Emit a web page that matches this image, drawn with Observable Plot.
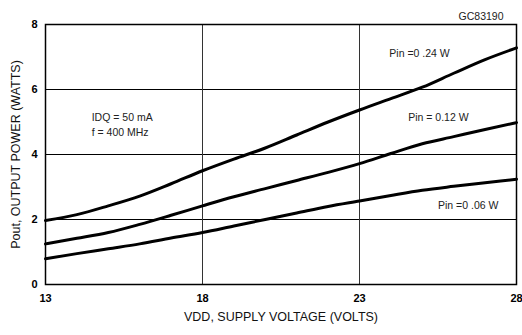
<!DOCTYPE html>
<html>
<head>
<meta charset="utf-8">
<script src="https://cdn.jsdelivr.net/npm/d3@7"></script>
<script src="https://cdn.jsdelivr.net/npm/@observablehq/plot@0.6"></script>
<style>
  html, body { margin: 0; padding: 0; background: #fff; }
  #chart { width: 522px; height: 335px; }
  svg { font-family: "Liberation Sans", Arial, sans-serif; }
</style>
</head>
<body>
<div id="chart"></div>
<script>
const vdd = [13, 14, 15, 16, 17, 18, 19, 20, 21, 22, 23, 24, 25, 26, 27, 28];
const pin024 = [1.97, 2.15, 2.42, 2.72, 3.1, 3.5, 3.86, 4.2, 4.6, 5.0, 5.37, 5.72, 6.07, 6.5, 6.92, 7.28];
const pin012 = [1.25, 1.42, 1.6, 1.85, 2.13, 2.42, 2.7, 2.95, 3.2, 3.45, 3.72, 4.03, 4.33, 4.55, 4.77, 4.98];
const pin006 = [0.79, 0.95, 1.1, 1.25, 1.43, 1.6, 1.8, 2.0, 2.2, 2.4, 2.57, 2.74, 2.9, 3.02, 3.13, 3.24];
const seriesNames = ["Pin =0 .24 W", "Pin = 0.12 W", "Pin =0 .06 W"];
const xTicks = [13, 18, 23, 28];
const yTicks = [0, 2, 4, 6, 8];
const xGrid = [18, 23];
const yGrid = [2, 4, 6];
const conditions = ["IDQ = 50 mA", "f = 400 MHz"];
const figId = "GC83190";

const rows = [];
[pin024, pin012, pin006].forEach((vals, i) => {
  vals.forEach((v, j) => rows.push({series: seriesNames[i], x: vdd[j], y: v}));
});

const seriesLabels = [
  {text: seriesNames[0], x: 23.95, y: 7.1},
  {text: seriesNames[1], x: 24.55, y: 5.15},
  {text: seriesNames[2], x: 25.5, y: 2.43}
];
const condLabels = [
  {text: conditions[0], x: 14.47, y: 5.14},
  {text: conditions[1], x: 14.47, y: 4.68}
];

const chart = Plot.plot({
  width: 522,
  height: 335,
  marginLeft: 45,
  marginRight: 6,
  marginTop: 24,
  marginBottom: 51,
  style: {fontFamily: '"Liberation Sans", Arial, sans-serif', background: "#fff", color: "#000"},
  x: {domain: [13, 28], ticks: xTicks, tickSize: 0, tickPadding: 10, label: null},
  y: {domain: [0, 8], ticks: yTicks, tickSize: 0, tickPadding: 8, label: null},
  marks: [
    Plot.ruleY(yGrid, {stroke: "#000", strokeWidth: 1}),
    Plot.ruleX(xGrid, {stroke: "#333", strokeWidth: 1}),
    Plot.frame({stroke: "#000", strokeWidth: 1.5}),
    Plot.line(rows, {x: "x", y: "y", z: "series", stroke: "#000", strokeWidth: 3, curve: "monotone-x"}),
    Plot.axisX({ticks: xTicks, tickSize: 0, tickPadding: 10, fontWeight: "bold", fontSize: 11, label: null}),
    Plot.axisY({ticks: yTicks, tickSize: 0, tickPadding: 8, fontWeight: "bold", fontSize: 11, label: null}),
    Plot.text(seriesLabels, {x: "x", y: "y", text: "text", textAnchor: "start", fontSize: 10.5, fill: "#222"}),
    Plot.text(condLabels, {x: "x", y: "y", text: "text", textAnchor: "start", fontSize: 10.5, fill: "#222"}),
    Plot.text([figId], {frameAnchor: "top-right", dx: -13, dy: -12, text: d => d, textAnchor: "end", fontSize: 10.5, fill: "#222"}),
    Plot.text(["VDD, SUPPLY VOLTAGE (VOLTS)"], {frameAnchor: "bottom", dy: 36, text: d => d, textAnchor: "middle", fontSize: 12.5, fill: "#111"}),
    Plot.text(["Pout, OUTPUT POWER (WATTS)"], {frameAnchor: "left", dx: -30, rotate: -90, text: d => d, textAnchor: "middle", fontSize: 12.5, fill: "#111"})
  ]
});
document.getElementById("chart").appendChild(chart);
</script>
</body>
</html>
